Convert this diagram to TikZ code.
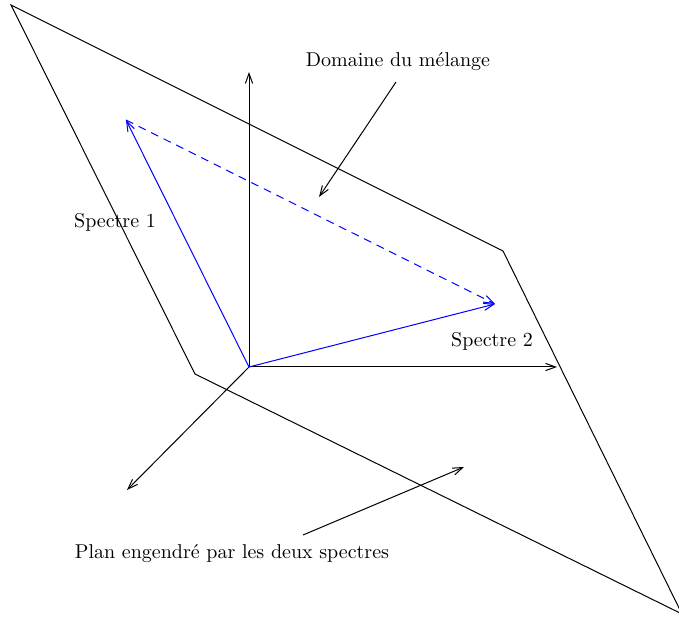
\documentclass[tikz,border=0pt]{standalone}
\usetikzlibrary{arrows.meta}
\begin{document}
\begin{tikzpicture}[x=0.5pt,y=-0.5pt,
  arr/.style={-{Straight Barb[length=5pt,width=3.6pt]}, line width=0.5pt},
  lbl/.style={inner sep=0pt, font=\normalsize}]
\useasboundingbox (0,0) rectangle (679,624);
% plane
\coordinate (p1) at (11,5);
\coordinate (p2) at (503,251);
\coordinate (p3) at (682,614);
\coordinate (p4) at (195,374);
\draw[line width=0.5pt] (p1) -- (p2) -- (p3) -- (p4) -- cycle;
% axes
\coordinate (o) at (249,367);
\coordinate (az) at (249,72);
\coordinate (ax) at (557,367);
\coordinate (ay) at (127,490);
\draw[arr] (o) -- (az);
\draw[arr] (o) -- (ax);
\draw[arr] (o) -- (ay);
% spectra
\coordinate (s1) at (126,120);
\coordinate (s2) at (495,304);
\draw[arr, blue] (o) -- (s1);
\draw[arr, blue] (o) -- (s2);
\draw[arr, blue, dashed, dash pattern=on 4pt off 3pt] (s1) -- (s2);
% labels
\node[lbl] (dom) at (398,62) {Domaine du m\'elange};
\coordinate (d1) at (396,82);
\coordinate (d2) at (319,197);
\draw[arr] (d1) -- (d2);
\node[lbl] (sp1) at (115,222) {Spectre 1};
\node[lbl] (sp2) at (492,341) {Spectre 2};
\node[lbl] (plan) at (232,554) {Plan engendr\'e par les deux spectres};
\coordinate (e1) at (303,535);
\coordinate (e2) at (464,467);
\draw[arr] (e1) -- (e2);
\end{tikzpicture}
\end{document}
